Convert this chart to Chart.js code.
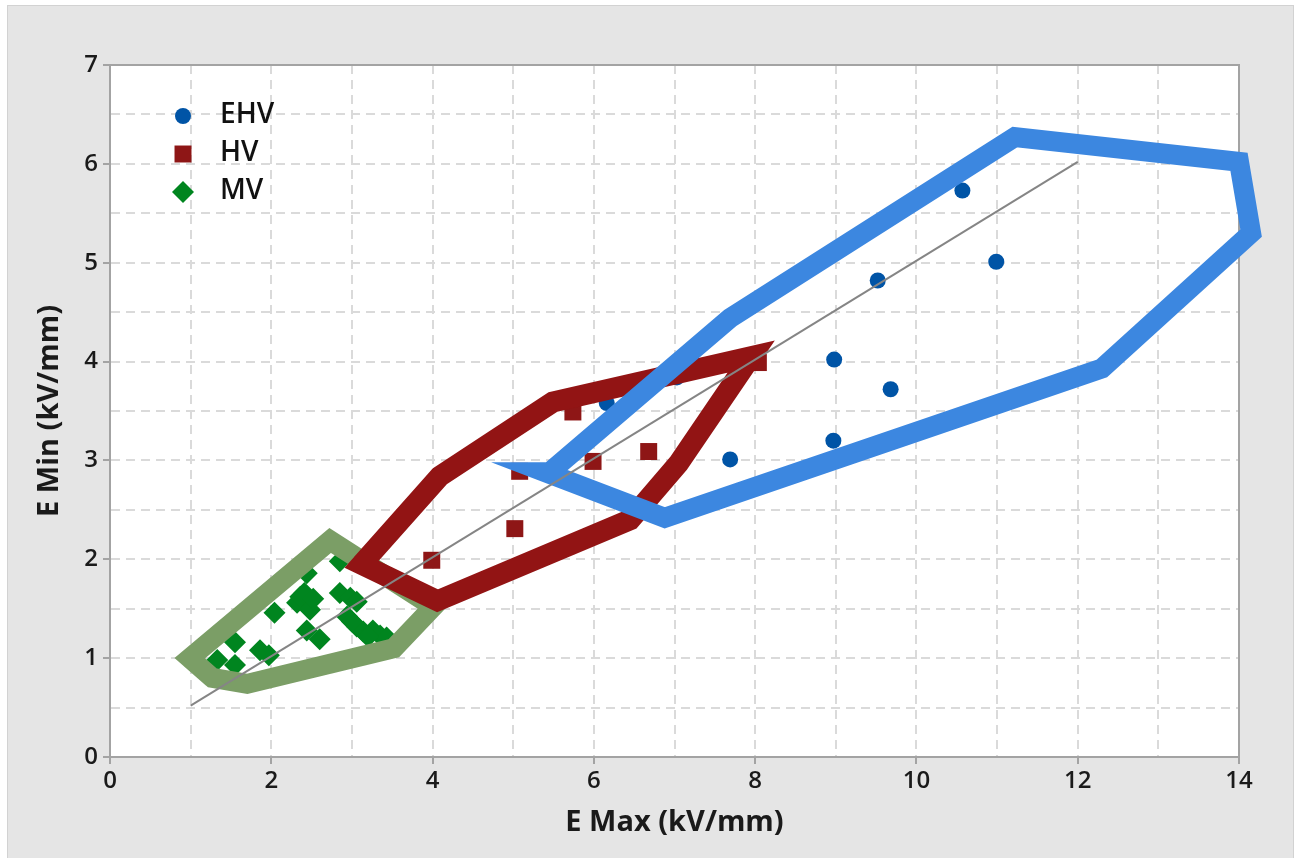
<!DOCTYPE html>
<html>
<head>
<meta charset="utf-8">
<script src="https://cdn.jsdelivr.net/npm/chart.js@4/dist/chart.umd.min.js"></script>
<style>
  html, body { margin: 0; padding: 0; background: #ffffff; }
  #frame { position: absolute; left: 7px; top: 5px; width: 1285px; height: 853px; background: #e5e5e5; border: 1px solid #d2d2d2; border-bottom: none; }
  #wrap { position: absolute; left: 0; top: 0; width: 1294px; height: 858px; }
</style>
</head>
<body>
<div id="frame"></div>
<div id="wrap"><canvas id="c" width="1294" height="858"></canvas></div>
<script>
// ---- data ----
const ehvX = [10.57, 10.99, 9.52, 8.98, 9.68, 8.97, 7.69, 6.16, 7.03];
const ehvY = [5.73, 5.01, 4.82, 4.02, 3.72, 3.20, 3.01, 3.58, 3.84];

const hvX = [3.99, 5.02, 5.99, 6.68, 5.74, 5.08, 8.04];
const hvY = [1.99, 2.31, 2.99, 3.09, 3.49, 2.89, 3.99];

const mvX = [1.33, 1.55, 1.55, 1.86, 1.97, 2.04, 2.32, 2.36, 2.41, 2.48, 2.44, 2.44, 2.60, 2.85, 2.85, 2.98, 3.06, 2.94, 3.06, 3.14, 3.26, 3.35, 3.43, 2.52, 3.00, 3.20];
const mvY = [0.98, 0.93, 1.16, 1.08, 1.03, 1.46, 1.56, 1.62, 1.66, 1.49, 1.86, 1.28, 1.19, 1.98, 1.66, 1.61, 1.57, 1.42, 1.32, 1.27, 1.28, 1.23, 1.21, 1.60, 1.37, 1.22];

// envelope outlines (closed polygons, vertices in drawing order)
const mvHullX = [0.99, 1.27, 1.70, 3.52, 4.01, 2.73];
const mvHullY = [1.00, 0.80, 0.74, 1.10, 1.52, 2.19];

const hvHullX = [3.12, 4.09, 5.49, 7.95, 7.05, 6.45, 4.06];
const hvHullY = [1.95, 2.84, 3.59, 4.05, 2.97, 2.40, 1.58];

const ehvHullX = [5.45, 7.69, 11.22, 14.00, 14.15, 12.30, 6.88, 5.40];
const ehvHullY = [2.88, 4.44, 6.27, 6.02, 5.30, 3.93, 2.42, 2.88];

// trend line
const fitX = [1, 12];
const fitY = [0.52, 6.02];

const seriesNames = ['EHV', 'HV', 'MV'];
const xTickLabels = [0, 2, 4, 6, 8, 10, 12, 14];
const yTickLabels = [0, 1, 2, 3, 4, 5, 6, 7];

// ---- helpers ----
const pts = (xs, ys) => xs.map((x, i) => ({ x: x, y: ys[i] }));
const closed = (xs, ys) => {
  const p = pts(xs, ys);
  return p.concat([p[0], p[1]]);
};

const FONT = "'Open Sans', 'Noto Sans', sans-serif";
const C_EHV = '#0054a6', C_HV = '#8e1616', C_MV = '#00851f';

const datasets = [
  { label: 'fit', data: pts(fitX, fitY), showLine: true, borderColor: '#858585', borderWidth: 2, pointRadius: 0, clip: false },
  { label: 'EHVhull', data: closed(ehvHullX, ehvHullY), showLine: true, borderColor: '#3c87e0', borderWidth: 20, pointRadius: 0, clip: false, borderJoinStyle: 'miter' },
  { label: 'HVhull', data: closed(hvHullX, hvHullY), showLine: true, borderColor: '#921414', borderWidth: 21, pointRadius: 0, clip: false, borderJoinStyle: 'miter' },
  { label: 'MVhull', data: closed(mvHullX, mvHullY), showLine: true, borderColor: '#7b9e66', borderWidth: 20, pointRadius: 0, clip: false, borderJoinStyle: 'miter' },
  { label: seriesNames[0], data: pts(ehvX, ehvY), pointStyle: 'circle', pointRadius: 8, backgroundColor: C_EHV, borderColor: C_EHV, borderWidth: 0 },
  { label: seriesNames[1], data: pts(hvX, hvY), pointStyle: 'rect', pointRadius: 12, backgroundColor: C_HV, borderColor: C_HV, borderWidth: 0 },
  { label: seriesNames[2], data: pts(mvX, mvY), pointStyle: 'rectRot', pointRadius: 11, backgroundColor: C_MV, borderColor: C_MV, borderWidth: 0 }
];

const plotBg = {
  id: 'plotBg',
  beforeDraw(chart) {
    const { ctx, chartArea: a } = chart;
    ctx.save();
    ctx.fillStyle = '#ffffff';
    ctx.fillRect(a.left, a.top, a.right - a.left, a.bottom - a.top);
    ctx.restore();
  },
  beforeDatasetsDraw(chart) {
    const { ctx, chartArea: a } = chart;
    ctx.save();
    ctx.strokeStyle = '#a3a3a3';
    ctx.lineWidth = 2;
    ctx.beginPath();
    ctx.moveTo(a.left, a.top);
    ctx.lineTo(a.right, a.top);
    ctx.lineTo(a.right, a.bottom);
    ctx.stroke();
    ctx.restore();
  },
  afterDraw(chart) {
    const { ctx, chartArea: a } = chart;
    const items = [
      { text: seriesNames[0], style: 'circle', r: 8, c: C_EHV },
      { text: seriesNames[1], style: 'rect', r: 12, c: C_HV },
      { text: seriesNames[2], style: 'rectRot', r: 11, c: C_MV }
    ];
    ctx.save();
    items.forEach((it, i) => {
      const y = a.top + 51 + i * 38;
      ctx.fillStyle = it.c;
      ctx.strokeStyle = it.c;
      Chart.helpers.drawPoint(ctx, { pointStyle: it.style, radius: it.r, borderWidth: 0, rotation: 0 }, a.left + 73, y);
      ctx.fillStyle = '#111111';
      ctx.font = "600 28px " + FONT;
      ctx.textBaseline = 'middle';
      ctx.textAlign = 'left';
      ctx.fillText(it.text, a.left + 110, y - 1);
    });
    ctx.restore();
  }
};

new Chart(document.getElementById('c'), {
  type: 'scatter',
  data: { datasets: datasets },
  plugins: [plotBg],
  options: {
    responsive: false,
    animation: false,
    layout: { padding: { top: 65, right: 55, left: 0, bottom: 0 } },
    plugins: { legend: { display: false }, tooltip: { enabled: false } },
    scales: {
      x: {
        type: 'linear', min: 0, max: 14,
        afterFit(s) { s.height = 101; },
        ticks: {
          stepSize: 1, autoSkip: false, maxRotation: 0, padding: 3,
          color: '#1a1a1a', font: { family: FONT, size: 24, weight: '600' },
          callback: v => xTickLabels.includes(v) ? String(v) : ''
        },
        grid: {
          color: '#dadada', lineWidth: 2, tickLength: 7,
          tickColor: c => (c.tick && xTickLabels.includes(c.tick.value)) ? '#a3a3a3' : 'rgba(0,0,0,0)'
        },
        border: { display: true, color: '#a3a3a3', width: 2, dash: [9, 6] },
        title: { display: true, text: 'E Max (kV/mm)', color: '#1a1a1a', font: { family: FONT, size: 29, weight: 'bold' }, padding: { top: 0, bottom: 18 } }
      },
      y: {
        type: 'linear', min: 0, max: 7,
        afterFit(s) { s.width = 110; },
        ticks: {
          stepSize: 0.5, autoSkip: false, padding: 5,
          color: '#1a1a1a', font: { family: FONT, size: 24, weight: '600' },
          callback: v => yTickLabels.includes(v) ? String(v) : ''
        },
        grid: {
          color: '#dadada', lineWidth: 2, tickLength: 7,
          tickColor: c => (c.tick && yTickLabels.includes(c.tick.value)) ? '#a3a3a3' : 'rgba(0,0,0,0)'
        },
        border: { display: true, color: '#a3a3a3', width: 2, dash: [9, 6] },
        title: { display: true, text: 'E Min (kV/mm)', color: '#1a1a1a', font: { family: FONT, size: 29, weight: 'bold' }, padding: { top: 32, bottom: 0 } }
      }
    }
  }
});
</script>
</body>
</html>
